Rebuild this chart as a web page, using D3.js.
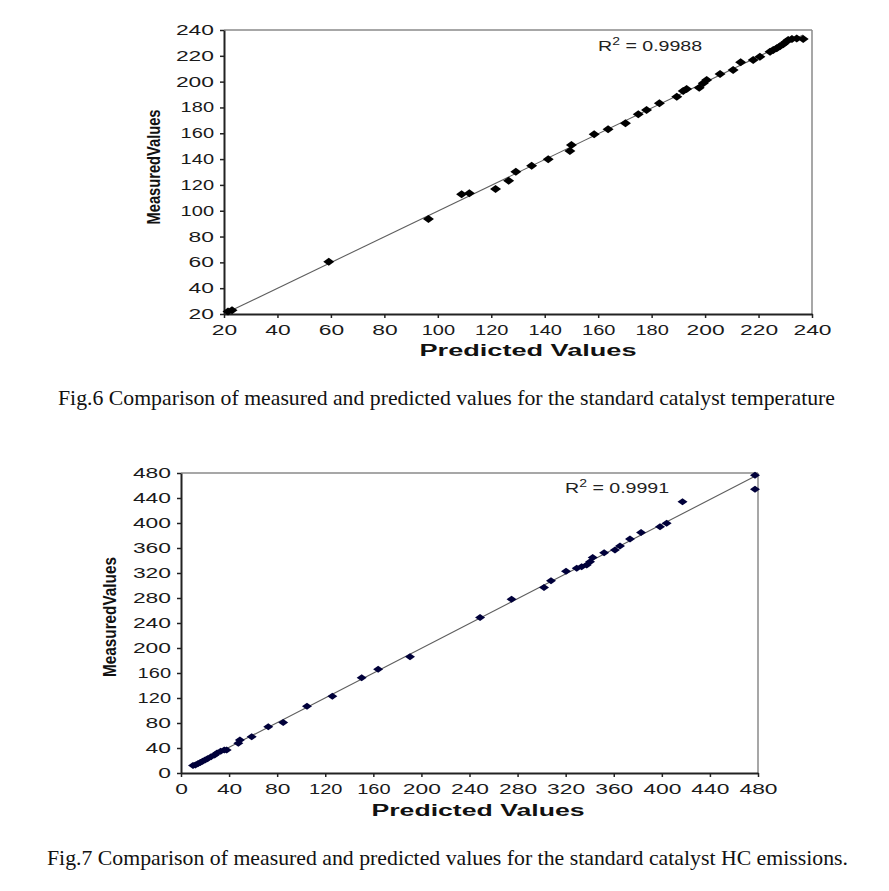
<!DOCTYPE html>
<html>
<head>
<meta charset="utf-8">
<script src="https://cdn.jsdelivr.net/npm/d3@7"></script>
<style>
  html, body { margin: 0; padding: 0; background: #fff; }
  svg { display: block; }
</style>
</head>
<body>
<svg id="chart" width="889" height="891"></svg>
<script>
// ---------- Fig.6 data (catalyst temperature) ----------
const fig6Predicted = [21.5, 23, 59.2, 96.5, 108.9, 111.8, 121.6, 126.5, 129.2, 135.1, 141.3, 149.4, 150,
  158.5, 163.7, 170.2, 175, 178.1, 182.9, 189.4, 191.8, 193.1, 197.8, 199.3, 200.6, 205.6, 210.5, 213.3,
  218, 220.5, 224.3, 225.5, 226.8, 228, 229.2, 230.2, 231.1, 232.5, 234.3, 236.7];
const fig6Measured = [22, 23, 60.5, 93.5, 112.7, 113.5, 116.8, 123.3, 130.2, 134.9, 139.8, 146.3, 150.9,
  159.2, 163.1, 167.7, 174.7, 178, 183.2, 188.2, 192.7, 194.3, 195.3, 198.7, 201.2, 205.9, 209, 215,
  216.7, 219.3, 223.2, 224.5, 225.8, 227.5, 228.9, 230.8, 232.2, 233, 233.5, 233];
const fig6Ticks = [20, 40, 60, 80, 100, 120, 140, 160, 180, 200, 220, 240];
const fig6R2 = "0.9988";
const fig6Caption = "Fig.6 Comparison of measured and predicted values for the standard catalyst temperature";

// ---------- Fig.7 data (HC emissions) ----------
const fig7Predicted = [10, 12, 14, 16, 18, 20, 22, 25, 28, 30, 33, 36, 38, 47.7, 49, 58.8, 72.6, 85, 104.8,
  125.9, 150.3, 164, 190.5, 248.8, 275, 302, 307.8, 320.3, 329.2, 333.3, 337.5, 340.3, 342.5, 352, 361,
  365.2, 373.5, 382.7, 398.5, 404, 417.2, 477.5, 477.5];
const fig7Measured = [12, 13, 15, 17, 19, 21, 23, 26, 29, 32, 35, 37, 37, 47.5, 52.8, 58, 74, 81, 107,
  123, 152.5, 166, 186, 249, 278, 297, 307.7, 323, 327.5, 330, 332.8, 338, 345, 352.5, 356.8,
  363.2, 374.4, 385, 394, 399.5, 434, 476.5, 454];
const fig7Ticks = [0, 40, 80, 120, 160, 200, 240, 280, 320, 360, 400, 440, 480];
const fig7R2 = "0.9991";
const fig7Caption = "Fig.7 Comparison of measured and predicted values for the standard catalyst HC emissions.";

const xTitle = "Predicted Values";
const yTitle = "MeasuredValues";

const svg = d3.select("#chart");

function labelWidth(s) {
  let w = 0;
  for (const c of s) w += (c === "1") ? 8 : 12.7;
  return w;
}

function drawChart(o) {
  const x = d3.scaleLinear().domain(o.xDomain).range([o.left, o.right]);
  const y = d3.scaleLinear().domain(o.yDomain).range([o.bottom, o.top]);
  const g = svg.append("g");

  // top & right gray border
  g.append("line").attr("x1", o.left).attr("x2", o.right).attr("y1", o.top).attr("y2", o.top)
    .attr("stroke", "#8a8a8a").attr("stroke-width", 1.5);
  g.append("line").attr("x1", o.right).attr("x2", o.right).attr("y1", o.top).attr("y2", o.bottom)
    .attr("stroke", "#8a8a8a").attr("stroke-width", 1.5);

  // trend line (least squares fit of the data)
  const n = o.px.length;
  const mx = d3.mean(o.px), my = d3.mean(o.py);
  let sxy = 0, sxx = 0;
  for (let i = 0; i < n; i++) { sxy += (o.px[i] - mx) * (o.py[i] - my); sxx += (o.px[i] - mx) ** 2; }
  const slope = sxy / sxx, icpt = my - slope * mx;
  const x0 = d3.min(o.px), x1 = d3.max(o.px);
  g.append("line")
    .attr("x1", x(x0)).attr("y1", y(slope * x0 + icpt))
    .attr("x2", x(x1)).attr("y2", y(slope * x1 + icpt))
    .attr("stroke", "#5e5e5e").attr("stroke-width", 1.1);

  // axes
  const yAxis = g.append("g").attr("transform", `translate(${o.left},0)`)
    .call(d3.axisLeft(y).tickValues(o.ticks).tickSize(4).tickSizeOuter(0).tickPadding(6));
  const xAxis = g.append("g").attr("transform", `translate(0,${o.bottom})`)
    .call(d3.axisBottom(x).tickValues(o.ticks).tickSize(4).tickSizeOuter(0).tickPadding(5));
  [yAxis, xAxis].forEach(a => {
    a.select(".domain").attr("stroke", "#222").attr("stroke-width", 2);
    a.selectAll(".tick line").attr("stroke", "#222").attr("stroke-width", 1.5);
    a.selectAll(".tick text")
      .attr("font-family", "'Liberation Sans', Arial, sans-serif")
      .attr("font-size", 14)
      .attr("fill", "#1a1a1a")
      .attr("textLength", d => labelWidth(String(d)))
      .attr("lengthAdjust", "spacingAndGlyphs");
  });
  xAxis.selectAll(".tick text").attr("dy", "0.85em");

  // points
  const pts = o.px.map((v, i) => [v, o.py[i]]);
  g.append("g").selectAll("path").data(pts).join("path")
    .attr("transform", d => `translate(${x(d[0])},${y(d[1])})`)
    .attr("d", o.marker)
    .attr("fill", o.pointColor);

  // R^2 label
  const r = g.append("text")
    .attr("transform", `translate(${o.r2x},${o.r2y}) scale(1.4,1)`)
    .attr("font-family", "'Liberation Sans', Arial, sans-serif").attr("font-size", 14)
    .attr("fill", "#222");
  r.append("tspan").text("R");
  r.append("tspan").attr("font-size", 10).attr("dy", -6).text("2");
  r.append("tspan").attr("dy", 6).text(" = " + o.r2);

  // axis titles
  g.append("text")
    .attr("x", o.xTitleX).attr("y", o.xTitleY)
    .attr("text-anchor", "middle")
    .attr("font-family", "'Liberation Sans', Arial, sans-serif")
    .attr("font-weight", "bold").attr("font-size", 16)
    .attr("textLength", o.xTitleLen).attr("lengthAdjust", "spacingAndGlyphs")
    .attr("fill", "#111")
    .text(xTitle);
  g.append("text")
    .attr("transform", `translate(${o.yTitleX},${o.yTitleY}) rotate(-90)`)
    .attr("text-anchor", "middle")
    .attr("font-family", "'Liberation Sans Narrow', 'Liberation Sans', Arial, sans-serif")
    .attr("font-weight", "bold").attr("font-size", 18)
    .attr("textLength", o.yTitleLen).attr("lengthAdjust", "spacingAndGlyphs")
    .attr("fill", "#111")
    .text(yTitle);

  // caption
  svg.append("text")
    .attr("x", o.capX).attr("y", o.capY)
    .attr("font-family", "'Liberation Serif', 'Times New Roman', serif")
    .attr("font-size", 21)
    .attr("textLength", o.capLen).attr("lengthAdjust", "spacingAndGlyphs")
    .attr("fill", "#111")
    .text(o.caption);
}

drawChart({
  left: 224, right: 812, top: 30, bottom: 314,
  xDomain: [20, 240], yDomain: [20, 240], ticks: fig6Ticks,
  px: fig6Predicted, py: fig6Measured, pointColor: "#000",
  marker: "M0,-4L5.5,0L0,4L-5.5,0Z",
  r2: fig6R2, r2x: 598, r2y: 51,
  xTitleX: 528, xTitleY: 356, xTitleLen: 217,
  yTitleX: 160, yTitleY: 167, yTitleLen: 115,
  caption: fig6Caption, capX: 58, capY: 405, capLen: 777
});

drawChart({
  left: 181, right: 758, top: 473, bottom: 773,
  xDomain: [0, 480], yDomain: [0, 480], ticks: fig7Ticks,
  px: fig7Predicted, py: fig7Measured, pointColor: "#00003a",
  marker: "M0,-3.5L5,0L0,3.5L-5,0Z",
  r2: fig7R2, r2x: 565, r2y: 493,
  xTitleX: 478, xTitleY: 816, xTitleLen: 213,
  yTitleX: 116, yTitleY: 617, yTitleLen: 120,
  caption: fig7Caption, capX: 47, capY: 865, capLen: 801
});
</script>
</body>
</html>
